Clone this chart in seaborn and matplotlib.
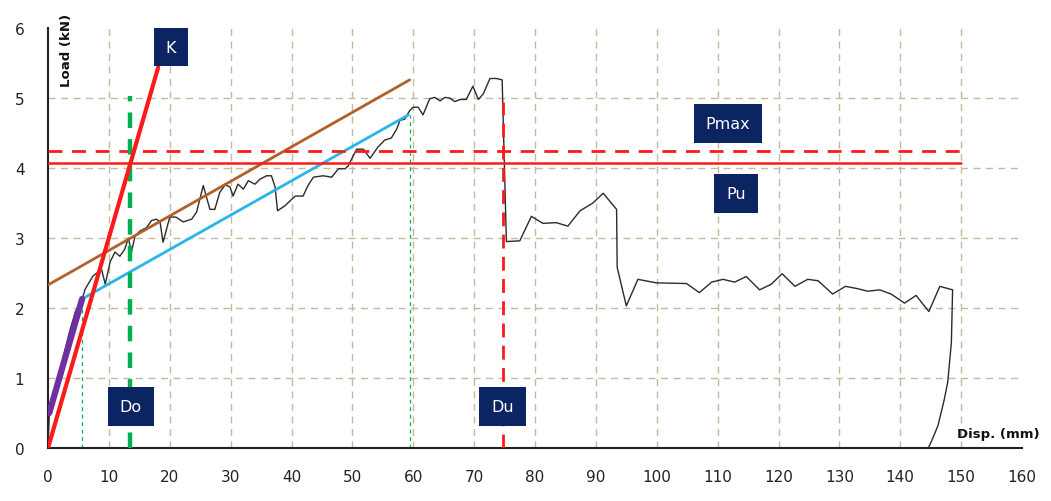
import numpy as np
import pandas as pd
import matplotlib
matplotlib.use("Agg")
import matplotlib.pyplot as plt
import seaborn as sns

# load-displacement curve
disp = [0, 0.2, 0.6, 1.5, 2.5, 3.5, 4.5, 5.6, 6.1, 7.4, 8.8, 9.4, 10.2, 11.0, 11.8, 12.6,
        13.2, 13.7, 14.3, 15.1, 16.2, 17.0, 17.8, 18.4, 18.9, 20.0, 21.0, 22.2, 23.6, 24.4,
        25.5, 26.6, 27.4, 28.2, 29.1, 29.9, 30.4, 31.2, 32.1, 32.9, 34.0, 34.8, 35.9, 36.7,
        37.3, 37.7, 38.9, 40.6, 41.9, 42.7, 43.6, 45.2, 46.6, 47.7, 48.8, 49.3, 50.7, 51.8,
        52.9, 54.2, 55.3, 56.4, 57.3, 57.8, 58.6, 59.4, 60.0, 60.8, 61.6, 62.7, 63.5, 64.4,
        65.2, 66.0, 66.8, 67.7, 68.7, 69.8, 70.7, 71.5, 72.6, 73.7, 74.6, 75.3, 77.5, 79.4,
        81.3, 83.5, 85.4, 87.4, 89.5, 91.2, 93.4, 93.5, 95.0, 96.9, 99.9, 104.9, 107.0,
        109.0, 110.9, 112.8, 114.7, 116.9, 118.8, 120.6, 122.7, 124.8, 126.5, 128.9, 131.0,
        132.8, 134.7, 136.6, 138.5, 140.7, 142.6, 144.7, 146.5, 148.6, 148.4, 147.8, 147.2,
        146.2, 145.1, 144.6]
load = [0, 0.45, 0.65, 0.95, 1.3, 1.65, 1.95, 2.13, 2.27, 2.46, 2.55, 2.34, 2.66, 2.80, 2.74,
        2.84, 3.00, 2.80, 3.03, 3.10, 3.15, 3.25, 3.27, 3.23, 2.94, 3.30, 3.30, 3.23, 3.27,
        3.37, 3.75, 3.41, 3.41, 3.65, 3.76, 3.73, 3.60, 3.77, 3.70, 3.82, 3.77, 3.84, 3.89,
        3.89, 3.73, 3.39, 3.46, 3.60, 3.60, 3.75, 3.87, 3.89, 3.87, 3.99, 3.99, 4.03, 4.27,
        4.27, 4.14, 4.30, 4.40, 4.43, 4.56, 4.68, 4.70, 4.82, 4.87, 4.87, 4.76, 4.99, 5.01,
        4.96, 5.01, 5.00, 4.95, 4.98, 4.98, 5.17, 4.98, 5.06, 5.28, 5.28, 5.26, 2.95, 2.96,
        3.31, 3.21, 3.22, 3.17, 3.39, 3.50, 3.64, 3.41, 2.58, 2.03, 2.41, 2.36, 2.35, 2.22,
        2.37, 2.41, 2.37, 2.45, 2.26, 2.34, 2.49, 2.31, 2.41, 2.39, 2.20, 2.31, 2.28, 2.24,
        2.26, 2.20, 2.07, 2.18, 1.95, 2.31, 2.26, 1.51, 0.94, 0.68, 0.32, 0.09, 0.00]

# construction lines (bilinear idealisation)
k_line_x = [0, 18.1]
k_line_y = [0, 5.44]
brown_x = [0, 59.4]
brown_y = [2.33, 5.26]
blue_x = [5.6, 59.2]
blue_y = [2.13, 4.76]
purple_x = [0.2, 5.6]
purple_y = [0.5, 2.13]
p_max = 4.24
p_u = 4.07
d_o = 13.5
d_o_top = 5.03
d_u = 74.8
d_u_top = 4.95
d_y1 = 5.6
d_y2 = 59.4

# label boxes
box_labels = ["K", "Do", "Du", "Pmax", "Pu"]
box_x = [20.2, 13.6, 74.7, 111.7, 113.0]
box_y = [5.73, 0.59, 0.59, 4.64, 3.63]

sns.set_style("white")
plt.rcParams['font.family'] = ['DejaVu Sans']

fig = plt.figure(figsize=(10.51, 5.02), dpi=100)
ax = fig.add_axes([0.0457, 0.1056, 0.9267, 0.8364])

grid_col = '#c4b99c'
for v in range(10, 160, 10):
    ax.axvline(v, color=grid_col, lw=1, ls=(0, (5, 4)), zorder=0)
for v in range(1, 6):
    ax.axhline(v, color=grid_col, lw=1, ls=(0, (5, 4)), zorder=0)

df = pd.DataFrame({'Disp': disp, 'Load': load})
sns.lineplot(data=df, x='Disp', y='Load', sort=False, estimator=None,
             color='#2b2b2b', lw=1.0, ax=ax, zorder=3)

sns.lineplot(x=k_line_x, y=k_line_y, color='#ff1a1a', lw=3, ax=ax, zorder=5)
sns.lineplot(x=brown_x, y=brown_y, color='#b0612a', lw=2, ax=ax, zorder=4)
sns.lineplot(x=blue_x, y=blue_y, color='#2ab4ea', lw=2, ax=ax, zorder=4)
sns.lineplot(x=purple_x, y=purple_y, color='#7030a0', lw=4.5, ax=ax, zorder=4)

ax.plot([0, 150], [p_max, p_max], color='#ff1a1a', lw=2, ls=(0, (5, 3.5)), zorder=4)
ax.plot([0, 150], [p_u, p_u], color='#ff1a1a', lw=1.8, zorder=4)
ax.plot([d_o, d_o], [0, d_o_top], color='#00b050', lw=3.2, ls=(0, (3.5, 2.5)), zorder=4)
ax.plot([d_u, d_u], [0, d_u_top], color='#ff1a1a', lw=2, ls=(0, (5, 3)), zorder=4)
ax.plot([d_y1, d_y1], [0, purple_y[1]], color='#00b050', lw=0.9, ls=(0, (3, 3)), zorder=2)
ax.plot([d_y2, d_y2], [0, blue_y[1]], color='#00b050', lw=0.9, ls=(0, (3, 3)), zorder=2)

for lab, bx, by in zip(box_labels, box_x, box_y):
    ax.text(bx, by, lab, color='white', fontsize=11.5, ha='center', va='center', zorder=6,
            bbox=dict(boxstyle='square,pad=0.75', fc='#0b2462', ec='none'))

ax.set_xlim(0, 160)
ax.set_ylim(0, 6)
ax.set_xticks(range(0, 170, 10))
ax.set_yticks(range(0, 7))
ax.tick_params(axis='x', length=0, pad=15, labelsize=11, colors='#222222')
ax.tick_params(axis='y', length=0, pad=17, labelsize=11, colors='#222222')
ax.set_xlabel('')
ax.set_ylabel('')

for s in ['top', 'right']:
    ax.spines[s].set_visible(False)
for s in ['left', 'bottom']:
    ax.spines[s].set_color('#222222')
    ax.spines[s].set_linewidth(1.5)

ax.text(3.1, 5.7, 'Load (kN)', rotation=90, fontsize=9.5, fontweight='bold',
        ha='center', va='center', color='#111111')
ax.text(162.9, 0.21, 'Disp. (mm)', fontsize=9.5, fontweight='bold',
        ha='right', va='center', color='#111111', clip_on=False)

fig.savefig('out.png', dpi=100)
